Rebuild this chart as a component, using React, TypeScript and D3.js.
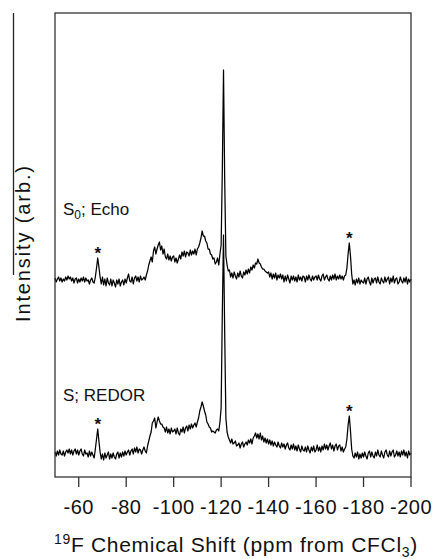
import React from "react";
import * as d3 from "d3";

// Sampled spectra: first point at -50 ppm, one point every -0.5 ppm (301 points, to -200 ppm)
const PPM_START = -50;
const PPM_STEP = -0.5;

// S0; Echo trace (intensity above its own baseline, arb.)
const ECHO = [
  2, -2, 1, 3, -1, 2, -2, 1, -1, 3,
  0, 4, 1, 3, -1, 2, -3, 1, 2, -3,
  1, -2, 2, -1, 3, -2, 2, -1, 0, -4,
  0, 2, -2, -3, 3, 12, 22, 13, 3, -4,
  3, -5, 1, -6, 2, -3, -5, 1, -6, 0,
  -3, -7, 0, -4, 1, -6, -2, 0, -5, 1,
  -3, 2, 6, -1, -2, 3, -4, 2, 4, -1,
  3, -2, 4, 0, 1, 3, 0, 5, 9, 15,
  19, 23, 18, 29, 33, 26, 31, 35, 38, 30,
  34, 26, 31, 23, 21, 26, 20, 24, 19, 23,
  24, 18, 22, 17, 21, 25, 21, 28, 24, 29,
  23, 28, 27, 24, 30, 25, 29, 26, 31, 25,
  31, 33, 37, 42, 49, 44, 44, 39, 37, 31,
  31, 26, 25, 21, 22, 16, 18, 22, 15, 26,
  35, 110, 210, 100, 24, 15, 9, 10, 3, 7,
  2, 8, 4, 1, 7, 3, 9, 4, 2, 8,
  5, 10, 6, 11, 7, 13, 10, 15, 12, 17,
  16, 21, 17, 16, 13, 11, 11, 9, 8, 7,
  8, 3, 7, 1, 6, 2, 7, 0, 5, 2,
  6, 1, 5, -2, 4, -1, 5, 1, -3, 4,
  0, 4, -1, 3, -2, 5, 0, 3, -1, 4,
  3, -2, 4, 0, 5, 1, -1, 4, 0, 3,
  4, 0, 5, 1, -1, 4, 6, 0, 3, 5,
  1, -1, 4, 0, 5, 1, 6, 0, 4, 1,
  5, 1, 4, 0, 4, 5, 12, 26, 37, 24,
  6, -4, 0, -5, 1, -3, 2, -4, 0, -2,
  -3, 2, -4, 1, 3, -2, -5, 2, -3, 1,
  2, -3, 3, -2, -4, 2, -1, -3, 3, -2,
  1, 3, -4, 2, -2, 4, -3, 1, 2, -4,
  -2, 3, -1, -3, 2, -2, 3, -4, 1, -2,
  1,
];

// S; REDOR trace
const REDOR = [
  1, -3, 2, -2, 3, -1, -2, 2, -3, 1,
  3, 0, 4, -1, 3, -2, 2, 4, -1, 3,
  -2, 2, 4, -1, -3, 3, -1, 0, -4, 2,
  -3, 1, -2, -5, 4, 14, 24, 12, 1, -6,
  -1, -7, 0, -5, -2, 1, -6, -1, -5, 0,
  -4, -6, -1, 1, -5, 0, -4, 1, -3, 2,
  -2, 1, 3, -2, 2, 4, -1, 5, 1, 6,
  0, 4, 3, -1, 3, 6, 2, 0, 7, 12,
  17, 21, 30, 32, 35, 25, 31, 36, 32, 29,
  29, 26, 25, 21, 26, 20, 24, 19, 25, 21,
  22, 24, 19, 25, 20, 18, 24, 21, 26, 20,
  25, 27, 22, 28, 24, 29, 25, 28, 30, 26,
  31, 35, 42, 46, 51, 47, 42, 38, 31, 29,
  26, 25, 21, 22, 21, 20, 23, 24, 22, 31,
  45, 140, 218, 120, 35, 21, 16, 13, 10, 14,
  9, 10, 12, 7, 8, 10, 5, 9, 11, 6,
  9, 11, 8, 13, 10, 14, 9, 15, 17, 20,
  15, 19, 14, 20, 13, 17, 11, 15, 10, 14,
  9, 13, 8, 12, 7, 11, 8, 6, 11, 7,
  5, 10, 6, 9, 4, 8, 10, 5, 3, 8,
  4, 9, 3, 7, 2, 8, 4, 1, 7, 3,
  2, 6, 1, 7, 3, 0, 6, 2, 7, 1,
  3, 8, 2, 6, 1, 7, 3, 9, 4, 8,
  3, 7, 10, 4, 8, 2, 7, 9, 3, 7,
  8, 2, 6, 1, 4, 6, 14, 28, 37, 22,
  4, -3, -5, 0, -4, 1, -6, -1, -5, 0,
  -4, 1, -3, -6, 0, 2, -4, 1, -3, -5,
  1, -3, 3, -2, -4, 2, -2, -5, 1, 3,
  -2, -4, 2, -3, 1, 3, -4, -2, 2, -3,
  1, -4, 2, -2, 3, -3, 1, -5, 2, -2,
  0,
];

const ECHO_OFFSET = 197;
const REDOR_OFFSET = 24;

const X_DOMAIN = [-50, -200];
const X_TICKS = [-60, -80, -100, -120, -140, -160, -180, -200];
const STAR_PPM = [-68, -174];

const ECHO_LABEL = "S";
const ECHO_LABEL_SUB = "0";
const ECHO_LABEL_REST = "; Echo";
const REDOR_LABEL = "S; REDOR";
const Y_LABEL = "Intensity (arb.)";

export default function App() {
  const font = "'Liberation Sans', Arial, Helvetica, sans-serif";
  const left = 55, right = 411, top = 13, bottom = 477;
  const x = d3.scaleLinear().domain(X_DOMAIN).range([left, right]);
  const y = d3.scaleLinear().domain([0, bottom - top]).range([bottom, top]);
  const ppmAt = (i: number) => PPM_START + i * PPM_STEP;
  const makeLine = (off: number) =>
    d3
      .line<number>()
      .x((_, i) => x(ppmAt(i)))
      .y((v) => y(v + off));

  const idx = (ppm: number) => Math.round((ppm - PPM_START) / PPM_STEP);
  const peakTop = (arr: number[], ppm: number) => {
    const i = idx(ppm);
    return d3.max(arr.slice(i - 2, i + 3)) as number;
  };

  const stars: { px: number; py: number }[] = [];
  STAR_PPM.forEach((p) => {
    stars.push({ px: x(p), py: y(peakTop(ECHO, p) + ECHO_OFFSET) - 8.5 });
    stars.push({ px: x(p), py: y(peakTop(REDOR, p) + REDOR_OFFSET) - 8.5 });
  });

  return (
    <svg
      width={432}
      height={559}
      style={{ position: "absolute", left: 0, top: 0, background: "#fff" }}
      fontFamily={font}
    >
      <rect x={0} y={0} width={432} height={559} fill="#fff" />
      {/* stray border line at left */}
      <line x1={13.5} x2={13.5} y1={13} y2={275} stroke="#222" strokeWidth={1.3} />

      {/* traces */}
      <path d={makeLine(ECHO_OFFSET)(ECHO) || ""} fill="none" stroke="#000" strokeWidth={1.25} strokeLinejoin="round" />
      <path d={makeLine(REDOR_OFFSET)(REDOR) || ""} fill="none" stroke="#000" strokeWidth={1.25} strokeLinejoin="round" />

      {/* frame */}
      <rect x={left} y={top} width={right - left} height={bottom - top} fill="none" stroke="#333" strokeWidth={1.3} />

      {/* x ticks */}
      {X_TICKS.map((t) => (
        <g key={t}>
          <line x1={x(t)} x2={x(t)} y1={bottom} y2={bottom + 10} stroke="#333" strokeWidth={1.3} />
          <text x={x(t)} y={514} fontSize={20} textAnchor="middle" fill="#111" letterSpacing={0.5}>
            {t}
          </text>
        </g>
      ))}

      {/* asterisks */}
      {stars.map((s, i) => (
        <text key={i} x={s.px} y={s.py + 9} fontSize={17} fontWeight="bold" textAnchor="middle" fill="#111">
          *
        </text>
      ))}

      {/* trace labels */}
      <text x={63} y={215} fontSize={17} fill="#111">
        {ECHO_LABEL}
        <tspan fontSize={12} dy={4}>{ECHO_LABEL_SUB}</tspan>
        <tspan dy={-4}>{ECHO_LABEL_REST}</tspan>
      </text>
      <text x={63} y={400.5} fontSize={17} fill="#111">
        {REDOR_LABEL}
      </text>

      {/* y label */}
      <text
        transform="translate(29.5,244) rotate(-90)"
        textAnchor="middle"
        fontSize={20}
        fill="#111"
        textLength={156}
        lengthAdjust="spacing"
      >
        {Y_LABEL}
      </text>

      {/* x label */}
      <text x={236} y={551.5} fontSize={21} textAnchor="middle" fill="#111" letterSpacing={0.7}>
        <tspan fontSize={14} dy={-8}>19</tspan>
        <tspan dy={8}>F Chemical Shift (ppm from CFCl</tspan>
        <tspan fontSize={14} dy={5}>3</tspan>
        <tspan dy={-5}>)</tspan>
      </text>
    </svg>
  );
}
